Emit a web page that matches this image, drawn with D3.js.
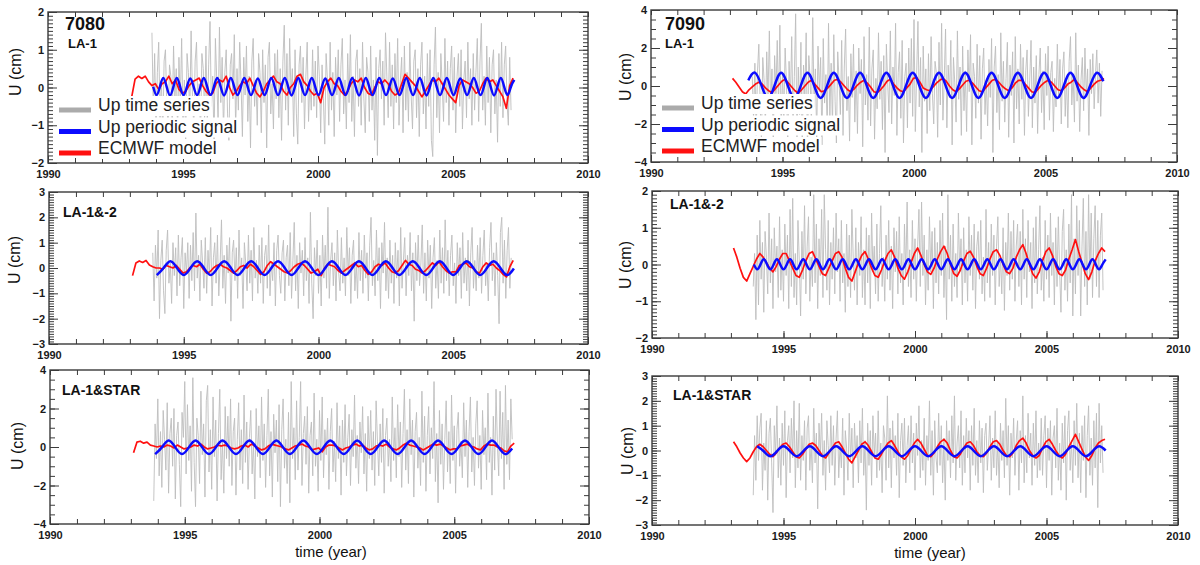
<!DOCTYPE html>
<html>
<head>
<meta charset="utf-8">
<script src="https://cdn.jsdelivr.net/npm/d3@7"></script>
<style>
  body { margin: 0; background: #fff; }
  svg { display: block; font-family: "Liberation Sans", Arial, sans-serif; }
</style>
</head>
<body>
<svg id="chart" width="1200" height="565"></svg>
<script>
// ---- data ----
const xTickYears = [1990, 1995, 2000, 2005, 2010];
const legendLabels = ['Up time series', 'Up periodic signal', 'ECMWF model'];

// gray "Up time series": one value every 0.05 yr from 1993.85
const grayStart = 1993.85, grayStep = 0.05;
// red ECMWF model: one value every 0.125 yr from 1993.1
const redStart = 1993.1, redStep = 0.125;

const gray7080LA1 = [
  1.45,-0.6,0.9,-1.1,0.4,1.2,-0.8,0.2,-1.3,0.7,1.0,-0.5,-1.0,0.6,0.3,-0.9,1.1,-0.3,0.5,-1.2,
  0.8,-0.4,1.3,-0.9,0.2,-1.4,0.9,0.4,-0.7,1.5,-0.2,-1.1,0.7,1.2,-0.6,0.1,-1.3,0.9,0.5,-0.8,
  1.1,-1.0,0.6,1.75,-0.5,0.3,-1.5,1.3,0.2,-0.9,1.6,-0.4,0.8,-1.2,0.4,1.0,-0.7,-1.4,0.6,0.9,
  -0.3,1.4,-1.1,0.5,-0.6,1.2,0.1,-1.3,0.8,-0.2,1.1,-0.9,0.3,-1.6,0.7,1.3,-0.5,0.2,-1.0,0.9,
  0.4,-1.2,1.0,-0.4,0.6,-1.6,0.8,1.2,-0.7,0.1,-1.1,0.9,-0.3,1.0,-0.8,0.5,-1.4,0.7,1.65,-0.6,
  0.9,-1.0,1.3,-0.2,0.5,-1.3,1.0,-0.7,-1.5,0.6,1.1,-0.4,0.8,-1.1,0.3,1.2,-0.9,0.2,-0.6,1.0,
  -0.5,0.7,-0.8,1.1,0.3,-1.2,0.6,-0.3,-1.5,0.9,0.2,-1.0,1.2,-0.6,0.4,-1.3,0.8,-0.2,1.0,-0.9,
  0.6,1.3,-0.7,0.2,-1.1,0.9,-0.4,1.4,-0.9,0.3,-1.3,0.7,1.0,-0.5,0.5,-1.0,1.2,-0.3,-1.2,0.8,
  0.4,-0.9,1.1,-0.6,0.2,-1.4,0.8,-1.8,0.5,1.0,-0.3,0.7,-1.0,1.45,0.3,-0.8,1.2,-0.5,0.6,-1.1,
  0.9,-0.4,1.3,-1.0,0.2,0.8,-1.2,1.1,-0.6,0.4,-0.9,1.2,-0.2,-1.1,0.7,1.0,-0.8,0.5,-1.3,0.6,
  1.2,-0.7,0.3,-1.1,0.9,-0.5,1.0,-1.4,-1.83,0.6,1.6,-0.8,0.4,-1.2,0.9,0.1,-0.9,1.3,-0.4,0.7,
  -1.0,0.5,1.1,-0.6,0.8,-1.2,0.3,0.9,-0.5,1.0,-1.1,0.2,0.7,-0.8,1.2,-0.3,0.5,-1.0,0.9,-0.6,
  0.4,1.3,-0.9,0.7,1.7,-0.6,0.3,-1.0,1.1,-0.4,0.8,-1.2,0.6,1.0,-0.7,0.2,-1.45,0.9,-0.5,1.2,
  -0.8,0.6,1.1,-0.4,-1.0,0.8,-0.6
];
const gray7090LA1 = [
  0.5,-1.8,1.2,-2.6,0.8,2.2,-1.0,-2.9,1.5,0.3,-2.2,1.8,-0.6,2.9,-1.4,0.9,-3.0,1.6,-0.4,2.4,
  -1.2,3.2,-2.5,0.7,-1.6,2.0,0.2,-3.3,1.3,-0.8,2.6,-1.9,0.5,3.8,-2.8,1.0,-1.5,2.3,-3.4,1.1,
  -0.5,2.8,-3.7,1.6,0.4,-2.0,3.6,-1.1,0.9,-2.7,2.1,-0.3,1.5,-3.1,2.5,-0.9,0.6,-2.4,3.3,-1.7,
  1.2,-2.2,2.7,-0.8,-3.0,1.8,0.3,-1.5,2.4,-2.6,1.0,3.0,-1.3,0.5,-2.9,1.7,-0.6,2.2,-1.9,0.8,
  -2.5,2.0,-0.4,1.4,-3.2,2.6,-1.0,0.6,-1.8,3.1,-2.1,0.9,1.9,-2.8,0.4,-1.2,2.8,-0.7,1.3,-2.3,
  1.6,-3.5,2.2,0.1,-1.4,2.9,-2.0,1.0,-0.5,3.3,-2.6,0.7,1.8,-1.7,2.4,-3.0,0.5,1.2,-2.2,2.0,
  -0.9,2.5,-1.6,3.5,-2.4,0.6,3.4,-1.1,1.5,-3.5,2.1,-0.8,0.9,-2.5,1.7,-1.3,2.6,-0.4,-2.0,1.3,
  0.7,-2.7,2.3,-1.0,3.3,-1.8,0.4,3.0,-2.2,1.1,-0.6,2.4,-3.1,1.5,0.2,-1.9,2.9,-0.7,1.0,-2.6,
  2.1,-1.3,0.8,-2.4,1.9,-0.3,2.7,-3.1,1.2,0.5,-1.7,2.2,-0.9,1.6,-2.8,0.9,2.0,-1.5,0.3,-2.1,
  1.4,-0.6,2.5,-3.5,1.0,2.1,-1.4,0.6,-2.3,2.8,-0.8,1.3,-1.9,0.4,2.3,-2.7,1.1,-0.5,1.8,-3.0,
  2.6,-1.2,0.9,-2.0,2.2,-0.7,1.5,-2.6,0.8,1.9,-1.6,0.3,2.4,-2.2,1.0,-0.9,1.6,-2.5,0.6,2.0,
  -1.4,0.8,-2.3,1.7,-0.5,2.1,-1.8,0.7,1.3,-2.4,0.4,-1.1,2.2,-0.6,1.4,-2.0,0.9,1.8,-1.6,0.5,
  -2.2,1.3,2.6,-1.0,0.6,-1.9,2.8,-0.8,1.1,-2.4,0.3,1.5,-1.3,2.0,-0.5,0.9,-2.6,1.4,-0.4,1.7,
  -1.2,0.6,1.9,-0.9,1.2,-1.6,0.8
];
const gray7080LA12 = [
  0.6,-1.3,0.9,-0.4,1.5,-2.0,0.3,1.1,-0.9,-1.8,0.7,1.5,-0.6,0.2,-1.4,1.0,-0.3,0.8,-1.1,1.3,
  -0.7,0.4,1.2,-1.6,0.6,-0.2,1.0,-1.2,0.9,-0.5,1.4,-0.9,2.17,-0.4,0.5,-1.3,1.1,0.2,-0.8,1.2,
  -1.0,0.7,-0.3,1.6,-1.5,0.4,1.0,-0.6,1.3,-1.1,0.2,1.9,-0.8,0.5,-1.4,0.9,-0.2,1.2,-2.1,0.6,
  1.1,-0.5,0.8,-1.2,1.5,-0.3,0.4,-1.6,1.0,0.2,-0.9,1.3,-0.6,0.7,-1.3,1.6,-0.4,0.3,-1.0,0.9,
  -0.6,1.2,-1.4,0.5,0.9,-0.8,1.7,-1.1,0.2,-0.5,1.0,-1.5,0.7,1.3,-0.3,-1.0,0.6,1.1,-1.3,0.4,
  0.9,-0.7,1.4,-1.2,0.3,1.8,-0.9,0.5,-1.6,1.0,-0.2,0.7,-1.1,1.2,-0.5,0.4,-1.4,2.2,-0.6,-2.0,
  0.8,-0.3,1.1,-1.0,0.5,-1.5,1.3,-0.4,0.9,-0.8,2.4,-1.2,0.3,1.0,-0.7,0.6,-1.3,1.5,-0.2,-0.9,
  1.2,-0.6,0.4,-1.1,1.6,-0.3,0.8,-1.4,0.5,1.1,-0.9,0.2,-1.2,1.4,-0.5,0.7,-1.0,1.3,-0.4,0.6,
  -1.3,0.9,2.0,-0.7,0.3,-1.1,1.5,-0.5,0.8,-1.6,1.0,-0.2,1.8,-0.9,0.4,-1.2,1.1,-0.6,0.5,-1.4,
  1.0,-0.4,0.7,-1.5,1.6,-0.8,0.3,1.2,-1.1,0.5,-0.3,1.4,-0.9,0.6,-2.1,1.0,-0.5,1.3,-0.7,0.2,
  1.7,-1.0,0.6,-1.3,1.1,-0.4,0.9,-1.6,0.4,1.2,-0.8,0.3,-1.2,1.5,-0.6,0.8,-1.0,1.9,-0.5,0.7,
  -1.1,0.5,1.3,-0.7,0.2,-1.4,1.0,-0.3,0.8,-1.2,1.4,-0.6,0.4,-0.9,1.1,-1.5,0.6,1.6,-0.8,0.3,
  -0.9,0.9,-0.4,1.2,-1.0,0.5,1.5,-0.7,0.2,-1.3,0.8,1.8,-0.5,0.6,-1.1,1.0,-0.3,-2.2,1.4,2.0,
  -0.6,1.1,-1.2,0.7,1.6,-0.8,0.4
];
const gray7090LA12 = [
  -0.6,0.3,-1.5,0.8,-1.1,1.2,-0.4,0.6,-1.3,0.9,0.2,-0.8,1.4,-0.5,0.7,-1.2,1.0,-0.2,0.5,-0.9,
  1.3,-0.7,0.4,-1.0,1.1,-0.3,0.8,-1.2,1.5,-0.6,1.8,-0.9,0.3,-1.1,1.2,0.1,-1.4,0.9,-0.4,1.6,
  -0.8,0.5,1.3,-1.0,0.2,-0.6,1.9,-0.5,1.1,-1.2,0.7,-0.3,1.5,-0.9,1.9,0.4,-0.7,1.2,-1.1,0.6,
  -0.4,1.0,-0.8,1.4,-0.2,0.7,-1.0,1.2,-0.5,0.3,-1.3,1.1,-0.6,0.8,-0.9,1.5,0.2,-0.7,1.0,-1.1,
  0.6,-0.3,1.3,-0.9,0.4,-1.1,1.0,-0.5,0.8,-1.2,1.4,-0.2,0.5,-0.8,1.1,-1.0,0.3,1.6,-0.6,0.2,
  -1.0,0.8,-0.4,1.2,-0.7,0.5,-1.2,1.0,-0.2,0.9,-0.8,1.3,-0.5,0.3,-1.1,1.1,-0.3,1.7,-0.6,0.4,
  -0.9,1.2,-0.4,0.7,-1.0,0.5,1.5,-0.6,1.7,-0.3,0.8,-1.1,0.4,-0.7,1.3,-0.2,0.9,-1.2,1.0,-0.5,
  0.6,-0.8,1.2,-0.3,1.4,-0.9,0.5,-1.5,1.9,-0.4,0.8,-1.0,1.1,-0.6,0.3,-0.9,1.4,-0.2,0.7,-1.1,
  1.0,-0.5,0.4,-1.0,1.3,-0.3,0.8,-0.7,1.1,-1.2,0.5,0.9,-0.4,1.2,-0.8,0.2,-1.0,1.5,-0.5,0.6,
  -0.9,1.1,-0.3,0.8,-1.1,0.5,1.3,-0.6,0.2,-0.8,1.0,-1.25,0.6,-0.3,1.4,-0.7,0.9,-0.4,1.2,-1.0,
  0.5,1.1,-0.6,0.9,-1.1,1.5,-0.4,0.7,-0.9,1.2,-0.2,0.6,-1.2,1.0,-0.5,1.3,-0.8,0.4,1.6,-0.7,
  0.2,-1.0,1.2,-0.4,0.8,-0.9,1.4,-0.3,0.6,-1.1,1.0,-0.6,1.3,-0.2,-1.3,0.9,1.5,-0.7,0.4,-1.0,
  1.1,-0.5,1.9,-1.4,0.7,-0.8,1.6,-0.3,1.2,-1.4,0.5,1.8,-0.6,0.9,-1.1,1.9,-0.4,1.4,-0.9,0.7,
  1.6,-0.6,1.2,-0.9,0.8,1.4,-0.7
];
const gray7080STAR = [
  -2.8,1.2,-0.6,2.5,-1.5,0.8,-2.1,1.9,0.4,-1.2,2.3,-2.4,0.7,1.5,-1.0,2.0,-2.7,0.6,1.3,-0.9,
  -3.1,1.8,0.5,3.4,-1.4,2.2,-0.7,1.1,-2.3,3.6,-0.8,-3.1,1.5,0.6,-1.9,2.9,-0.4,1.2,-2.6,2.4,
  3.2,-1.3,0.9,-2.2,2.6,-0.5,1.4,-2.8,0.7,3.0,-1.7,0.3,-2.4,2.1,-0.6,1.6,-1.0,2.5,-2.0,0.8,
  1.5,-2.5,0.4,2.3,-1.2,0.9,-1.9,2.7,-0.8,1.3,-2.2,0.5,1.9,-1.4,0.2,-2.7,2.0,-0.5,1.1,-1.6,
  2.6,-0.7,1.2,-2.1,0.6,3.0,-1.5,0.8,-2.6,1.7,-0.3,1.4,-1.8,2.2,-3.1,0.9,2.5,-1.1,0.4,-1.9,
  1.8,-2.9,3.4,-0.6,1.0,-1.7,2.4,-1.2,0.5,3.4,-2.0,0.7,1.6,-0.9,2.1,-2.4,0.6,1.3,-1.5,2.8,
  -1.0,0.4,-2.3,1.9,-0.7,2.6,-1.6,0.9,-0.4,1.5,-2.2,0.8,2.0,-1.3,0.3,-1.8,2.3,-0.6,1.1,-2.5,
  1.4,-0.8,2.2,-1.5,0.5,1.7,-2.0,0.9,-0.5,2.7,-1.1,0.6,-1.9,1.3,-0.3,2.1,-1.4,0.7,-2.3,1.6,
  -0.6,1.9,-1.2,0.8,-2.0,2.4,0.3,-1.5,1.2,-0.8,2.0,-2.4,0.6,1.5,-1.0,0.4,-1.8,2.6,-0.7,1.0,
  -1.6,2.2,-0.5,1.3,-2.1,0.7,3.0,-1.2,0.9,-1.9,2.5,-0.4,1.4,-2.6,0.8,1.8,-1.1,0.5,-2.0,2.9,
  -0.8,1.6,-2.3,0.6,2.1,-1.4,1.0,-0.6,3.4,-1.8,0.7,-2.9,1.9,-0.9,1.2,-2.2,0.4,2.4,-1.3,0.8,
  -1.9,2.7,-0.7,1.1,-2.4,0.9,1.8,-1.0,0.3,-1.6,2.3,-0.5,1.4,-2.1,0.8,2.6,-1.3,0.5,-2.0,1.2,
  2.4,-1.1,0.6,-2.2,1.9,-0.4,1.0,-1.7,2.8,-0.8,0.5,-2.5,1.6,-1.2,3.0,0.2,-1.5,2.9,-0.6,1.8,
  -2.2,3.2,-0.9,1.4,-1.7,2.5,0.4
];
const gray7090STAR = [
  -1.8,0.6,-1.2,1.4,-0.4,0.9,1.5,-1.6,0.3,-0.8,1.2,-2.0,0.7,1.3,-0.5,-2.5,1.0,-0.2,1.8,-1.1,
  0.5,-1.4,1.1,-0.6,1.6,-1.9,0.4,1.0,-0.9,1.3,-0.3,2.0,-1.5,0.8,-0.7,1.9,-1.2,0.6,-0.4,1.2,
  -1.6,0.9,1.4,-0.8,0.3,-1.3,1.7,-0.5,0.7,-2.35,1.1,-0.2,1.5,-1.0,0.4,-1.6,1.2,0.2,-0.9,1.4,
  -0.6,1.0,-1.4,0.5,1.6,-1.1,0.2,-0.7,1.3,-1.8,0.8,0.1,-1.2,1.5,-0.4,0.9,-1.5,1.1,-0.3,0.6,
  -1.3,1.2,-0.5,1.7,-1.0,0.4,-2.4,1.1,-0.6,0.8,-1.4,1.4,-0.2,0.7,-1.1,1.6,-0.8,0.3,-1.7,1.0,
  0.5,-1.2,2.2,-0.7,0.9,-1.5,1.2,-0.3,0.6,-1.0,1.5,-1.9,0.4,1.1,-0.6,1.3,-1.3,0.2,1.0,-0.9,
  1.4,-0.5,0.7,-1.6,1.1,-0.2,1.8,-1.1,0.4,-0.8,1.3,-1.4,0.6,-0.4,2.0,-1.0,0.8,-1.8,1.2,-0.3,
  -0.9,1.5,-0.6,1.0,-1.3,0.5,-2.0,1.2,-0.4,0.8,-1.1,1.4,-0.5,2.2,-1.2,0.3,1.0,-0.7,1.6,-1.4,
  0.6,-0.9,1.3,-0.3,0.8,-1.6,1.0,-0.6,1.7,-1.0,0.4,-1.3,1.2,-0.5,0.9,-1.7,0.6,1.1,-0.8,0.2,
  1.4,-1.2,0.5,-0.7,1.6,-1.0,0.3,-1.5,1.1,-0.4,0.8,-1.1,2.1,-0.6,1.0,-1.8,0.7,-0.3,1.3,-1.0,
  0.4,1.2,-1.6,0.8,-0.5,2.2,-1.3,0.6,-0.9,1.5,-0.3,0.7,-1.4,1.1,-0.6,1.6,-1.1,0.3,-0.8,1.3,
  -1.0,0.6,1.4,-1.5,0.9,-0.4,1.2,-1.8,0.5,1.0,-0.7,1.7,-1.2,0.3,-1.6,1.1,-0.5,1.4,-2.0,0.8,
  1.6,-0.8,0.4,-1.3,1.2,-0.6,1.9,-1.1,0.7,-1.7,1.0,-0.4,1.4,-1.9,0.6,1.8,-1.0,0.5,-1.4,1.2,
  -0.7,1.5,-2.3,1.9,-0.5,1.0,-0.9
];

const red7080LA1 = [
  -0.25,0.22,0.3,0.24,0.3,0.15,0.05,0.1,
  -0.05,0.1,0.15,0.3,0.1,0.2,-0.05,-0.15,
  -0.1,0.05,0.15,0.2,0.25,0.05,-0.1,-0.2,
  -0.15,0.1,0.2,0.15,0.3,0.0,-0.2,-0.1,
  0.05,0.15,0.1,0.25,0.05,-0.15,-0.25,-0.1,
  0.1,0.2,0.3,0.15,0.1,-0.1,-0.2,0.0,
  0.1,0.3,0.35,0.15,0.05,-0.1,-0.2,-0.15,
  -0.4,0.0,0.15,0.25,0.1,0.05,-0.1,-0.2,
  -0.1,0.1,0.2,0.15,0.25,0.0,-0.15,-0.2,
  0.0,0.15,0.1,0.2,0.1,-0.1,-0.2,-0.15,
  0.1,0.35,0.25,0.15,0.05,-0.1,-0.25,-0.1,
  0.05,0.2,0.15,0.25,0.1,-0.05,-0.2,-0.3,
  -0.4,0.05,0.2,0.15,0.1,0.0,-0.15,-0.1,
  0.1,0.25,0.15,0.2,0.05,-0.1,-0.25,-0.55,
  0.05,0.25
];
const red7090LA1 = [
  0.4,0.2,-0.05,-0.3,-0.42,-0.2,-0.05,0.1,
  0.2,0.1,-0.1,-0.25,-0.35,-0.15,0.05,0.25,
  0.35,0.15,-0.05,-0.25,-0.38,-0.2,0.0,0.2,
  0.3,0.1,-0.1,-0.3,-0.25,-0.1,0.1,0.3,
  0.35,0.2,0.0,-0.2,-0.3,-0.15,0.05,0.2,
  0.3,0.15,-0.05,-0.3,-0.35,-0.2,0.0,0.25,
  0.35,0.1,-0.1,-0.25,-0.3,-0.1,0.1,0.4,
  0.45,0.2,-0.1,-0.2,-0.25,-0.05,0.15,0.3,
  0.4,0.25,0.0,-0.2,-0.3,-0.15,0.05,0.25,
  0.3,0.15,-0.05,-0.25,-0.3,-0.1,0.1,0.3,
  0.35,0.2,0.0,-0.15,-0.25,-0.1,0.15,0.3,
  0.3,0.1,-0.1,-0.3,-0.35,-0.15,0.05,0.2,
  0.3,0.2,0.0,-0.2,-0.25,-0.1,0.1,0.2,
  0.35,0.15,-0.05,-0.2,-0.3,-0.1,0.1,0.25,
  0.3,0.4
];
const red7080LA12 = [
  -0.3,0.2,0.28,0.22,0.3,0.12,0.05,0.0,
  0.0,-0.05,0.1,0.05,0.0,0.1,-0.05,-0.2,
  -0.15,0.0,0.1,0.05,0.15,-0.05,-0.2,-0.15,
  0.0,0.1,0.15,0.05,0.0,-0.1,-0.2,-0.1,
  0.05,0.1,0.0,0.15,0.05,-0.1,-0.25,-0.15,
  0.1,0.25,0.15,0.05,-0.05,-0.15,-0.2,-0.1,
  0.05,0.15,0.2,0.1,-0.05,-0.2,-0.15,-0.05,
  -0.3,0.0,0.15,0.1,0.05,-0.1,-0.2,-0.1,
  0.0,0.1,0.2,0.05,0.1,-0.1,-0.25,-0.15,
  0.05,0.15,0.1,0.2,0.0,-0.15,-0.2,-0.1,
  0.1,0.3,0.15,0.1,-0.05,-0.1,-0.2,-0.1,
  0.05,0.2,0.1,0.25,0.05,-0.1,-0.2,-0.15,
  -0.15,0.1,0.15,0.2,0.05,0.0,-0.15,-0.2,
  0.05,0.2,0.1,0.15,0.0,-0.1,-0.25,-0.35,
  0.05,0.3
];
const red7090LA12 = [
  0.45,0.2,-0.1,-0.35,-0.45,-0.25,-0.05,0.15,
  0.3,0.2,0.05,-0.1,-0.2,-0.05,0.15,0.3,
  0.3,0.1,-0.1,-0.3,-0.35,-0.15,0.1,0.3,
  0.35,0.15,-0.05,-0.25,-0.3,-0.1,0.1,0.3,
  0.35,0.2,-0.1,-0.35,-0.45,-0.2,0.05,0.25,
  0.35,0.15,-0.1,-0.3,-0.35,-0.15,0.1,0.3,
  0.4,0.2,-0.1,-0.3,-0.4,-0.2,0.05,0.3,
  0.45,0.25,0.0,-0.2,-0.27,-0.1,0.15,0.35,
  0.5,0.3,0.0,-0.25,-0.32,-0.15,0.1,0.3,
  0.36,0.2,-0.05,-0.25,-0.3,-0.1,0.15,0.35,
  0.4,0.25,0.0,-0.2,-0.25,-0.1,0.2,0.4,
  0.54,0.3,0.0,-0.25,-0.37,-0.2,0.1,0.35,
  0.45,0.25,-0.05,-0.25,-0.3,-0.15,0.15,0.4,
  0.68,0.35,0.05,-0.25,-0.41,-0.2,0.1,0.3,
  0.45,0.35
];
const red7080STAR = [
  -0.3,0.25,0.3,0.2,0.25,0.1,0.05,0.0,
  0.05,0.0,0.1,0.05,-0.05,0.1,0.0,-0.1,
  -0.05,0.0,0.1,0.05,0.15,0.0,-0.1,-0.05,
  0.0,0.1,0.05,0.1,0.05,-0.05,-0.1,-0.05,
  0.05,0.1,0.0,0.15,0.05,-0.05,-0.15,-0.1,
  0.05,0.15,0.1,0.05,0.0,-0.1,-0.15,-0.05,
  0.05,0.1,0.15,0.05,0.0,-0.15,-0.1,-0.05,
  -0.25,0.0,0.1,0.1,0.05,-0.05,-0.15,-0.05,
  0.0,0.1,0.15,0.05,0.1,-0.05,-0.15,-0.1,
  0.05,0.1,0.05,0.15,0.0,-0.1,-0.15,-0.05,
  0.1,0.2,0.1,0.05,0.0,-0.05,-0.15,-0.05,
  0.05,0.15,0.1,0.15,0.05,-0.05,-0.15,-0.1,
  -0.1,0.05,0.1,0.15,0.05,0.0,-0.1,-0.15,
  0.05,0.15,0.1,0.1,0.0,-0.05,-0.2,-0.25,
  0.05,0.2
];
const red7090STAR = [
  0.35,0.15,-0.1,-0.3,-0.45,-0.3,-0.05,0.15,
  0.25,0.15,0.0,-0.15,-0.25,-0.1,0.1,0.25,
  0.3,0.15,-0.05,-0.25,-0.3,-0.15,0.05,0.25,
  0.3,0.2,0.0,-0.2,-0.3,-0.1,0.1,0.3,
  0.35,0.15,-0.1,-0.35,-0.5,-0.25,0.0,0.25,
  0.35,0.2,-0.05,-0.3,-0.35,-0.15,0.1,0.3,
  0.4,0.2,-0.05,-0.25,-0.35,-0.2,0.05,0.3,
  0.45,0.3,0.05,-0.2,-0.25,-0.1,0.15,0.35,
  0.45,0.3,0.0,-0.25,-0.3,-0.15,0.1,0.3,
  0.35,0.2,-0.05,-0.2,-0.25,-0.1,0.15,0.35,
  0.4,0.25,0.0,-0.2,-0.25,-0.1,0.2,0.4,
  0.5,0.3,0.0,-0.2,-0.3,-0.2,0.1,0.35,
  0.45,0.25,0.0,-0.2,-0.3,-0.15,0.15,0.4,
  0.65,0.35,0.05,-0.25,-0.4,-0.2,0.1,0.3,
  0.4,0.45
];

// blue periodic signal: values on a quarter-period grid
const blue7080LA1 = [
  0.02,-0.2,0.02,0.25, 0.02,-0.21,0.02,0.25, 0.02,-0.2,0.02,0.24, 0.02,-0.2,0.02,0.25,
  0.02,-0.2,0.02,0.25, 0.02,-0.21,0.02,0.25, 0.02,-0.2,0.02,0.25, 0.02,-0.2,0.02,0.24,
  0.02,-0.2,0.02,0.25, 0.02,-0.2,0.02,0.25, 0.02,-0.21,0.02,0.25, 0.02,-0.2,0.02,0.25,
  0.02,-0.2,0.02,0.24, 0.02,-0.2,0.02,0.25, 0.02,-0.2,0.02,0.25, 0.02,-0.21,0.02,0.25,
  0.02,-0.2,0.02,0.25, 0.02,-0.2,0.02,0.24, 0.02,-0.2,0.02,0.25, 0.02,-0.2,0.02,0.25,
  0.02,-0.21,0.02,0.25, 0.02,-0.2,0.02,0.25, 0.02,-0.2,0.02,0.24, 0.02,-0.2,0.02,0.25,
  0.02,-0.2,0.02,0.25, 0.02,-0.21,0.02,0.25, 0.02,-0.2,0.02,0.2
];
const blue7090LA1 = [
  0.3,
  0.7,0.03,-0.63,0.03, 0.7,0.03,-0.63,0.03, 0.7,0.03,-0.63,0.03, 0.7,0.03,-0.63,0.03,
  0.7,0.03,-0.63,0.03, 0.7,0.03,-0.63,0.03, 0.7,0.03,-0.63,0.03, 0.7,0.03,-0.63,0.03,
  0.7,0.03,-0.63,0.03, 0.7,0.03,-0.63,0.03, 0.7,0.03,-0.63,0.03, 0.7,0.03,-0.63,0.03,
  0.7,0.03,-0.63,0.03,
  0.7,0.25
];
const blue7080LA12 = [
  -0.28,0,0.27,0, -0.28,0,0.27,0, -0.28,0,0.27,0, -0.28,0,0.27,0, -0.28,0,0.27,0,
  -0.28,0,0.27,0, -0.28,0,0.27,0, -0.28,0,0.27,0, -0.28,0,0.27,0, -0.28,0,0.27,0,
  -0.28,0,0.27,0, -0.28,0,0.27,0, -0.28,0,0.27,0,
  -0.28,-0.02
];
const blue7090LA12 = [
  0,-0.13,0,0.14, 0,-0.13,0,0.14, 0,-0.13,0,0.14, 0,-0.13,0,0.14, 0,-0.13,0,0.14,
  0,-0.13,0,0.14, 0,-0.13,0,0.14, 0,-0.13,0,0.14, 0,-0.13,0,0.14, 0,-0.13,0,0.14,
  0,-0.13,0,0.14, 0,-0.13,0,0.14, 0,-0.13,0,0.14, 0,-0.13,0,0.14, 0,-0.13,0,0.14,
  0,-0.13,0,0.14, 0,-0.13,0,0.14, 0,-0.13,0,0.14, 0,-0.13,0,0.14, 0,-0.13,0,0.14,
  0,-0.13,0,0.14, 0,-0.13,0,0.14, 0,-0.13,0,0.14, 0,-0.13,0,0.14, 0,-0.13,0,0.14,
  0,-0.13,0,0.14, 0,-0.13,0,0.14
];
const blue7080STAR = [
  -0.37,-0.02,0.34,-0.02, -0.37,-0.02,0.34,-0.02, -0.37,-0.02,0.34,-0.02, -0.37,-0.02,0.34,-0.02,
  -0.37,-0.02,0.34,-0.02, -0.37,-0.02,0.34,-0.02, -0.37,-0.02,0.34,-0.02, -0.37,-0.02,0.34,-0.02,
  -0.37,-0.02,0.34,-0.02, -0.37,-0.02,0.34,-0.02, -0.37,-0.02,0.34,-0.02, -0.37,-0.02,0.34,-0.02,
  -0.37,-0.02,0.34,-0.02,
  -0.37,-0.08
];
const blue7090STAR = [
  0.17,-0.03,-0.23,-0.03, 0.17,-0.03,-0.23,-0.03, 0.17,-0.03,-0.23,-0.03, 0.17,-0.03,-0.23,-0.03,
  0.17,-0.03,-0.23,-0.03, 0.17,-0.03,-0.23,-0.03, 0.17,-0.03,-0.23,-0.03, 0.17,-0.03,-0.23,-0.03,
  0.17,-0.03,-0.23,-0.03, 0.17,-0.03,-0.23,-0.03, 0.17,-0.03,-0.23,-0.03, 0.17,-0.03,-0.23,-0.03,
  0.17,-0.03,-0.23,-0.03,
  0.17,0.0
];

// y axis ticks per panel
const yTicks7080LA1 = [-2, -1, 0, 1, 2];
const yTicks7090LA1 = [-4, -2, 0, 2, 4];
const yTicks7080LA12 = [-3, -2, -1, 0, 1, 2, 3];
const yTicks7090LA12 = [-2, -1, 0, 1, 2];
const yTicks7080STAR = [-4, -2, 0, 2, 4];
const yTicks7090STAR = [-3, -2, -1, 0, 1, 2, 3];

// ---- panels ----
const panels = [
  { id: 'a', station: '7080', name: 'LA-1', legend: true, gray: gray7080LA1, red: red7080LA1,
    blue: blue7080LA1, blueStart: 1993.895, blueStep: 0.125, yTicks: yTicks7080LA1, yMinor: 0.1,
    box: { x0: 48, x1: 588, y0: 12, y1: 163 }, stationPos: [65, 30], namePos: [68, 48], ylab: [15, 72], xTitle: false },
  { id: 'b', station: '7090', name: 'LA-1', legend: true, gray: gray7090LA1, red: red7090LA1,
    blue: blue7090LA1, blueStart: 1993.7, blueStep: 0.25, yTicks: yTicks7090LA1, yMinor: 0.5,
    box: { x0: 651, x1: 1177, y0: 10, y1: 162 }, stationPos: [665, 30], namePos: [665, 48], ylab: [625, 77], xTitle: false },
  { id: 'c', name: 'LA-1&-2', gray: gray7080LA12, red: red7080LA12,
    blue: blue7080LA12, blueStart: 1994.0, blueStep: 0.25, yTicks: yTicks7080LA12, yMinor: 0.1,
    box: { x0: 49, x1: 588, y0: 192, y1: 344 }, namePos: [63, 217], ylab: [14, 260], xTitle: false },
  { id: 'd', name: 'LA-1&-2', gray: gray7090LA12, red: red7090LA12,
    blue: blue7090LA12, blueStart: 1993.875, blueStep: 0.125, yTicks: yTicks7090LA12, yMinor: 0.1,
    box: { x0: 652, x1: 1178, y0: 191, y1: 338 }, namePos: [670, 209], ylab: [625, 265], xTitle: false },
  { id: 'e', name: 'LA-1&STAR', gray: gray7080STAR, red: red7080STAR,
    blue: blue7080STAR, blueStart: 1993.9, blueStep: 0.25, yTicks: yTicks7080STAR, yMinor: 0.5,
    box: { x0: 50, x1: 589, y0: 370, y1: 524 }, namePos: [62, 395], ylab: [17, 446], xTitle: [331, 557] },
  { id: 'f', name: 'LA-1&STAR', gray: gray7090STAR, red: red7090STAR,
    blue: blue7090STAR, blueStart: 1994.0, blueStep: 0.25, yTicks: yTicks7090STAR, yMinor: 0.1,
    box: { x0: 652, x1: 1178, y0: 376, y1: 525 }, namePos: [673, 400], ylab: [627, 451], xTitle: [930, 558] }
];

const svg = d3.select('#chart');
const FONT = '"Liberation Sans", Arial, sans-serif';
const fmt = d => (d < 0 ? '\u2212' + Math.abs(d) : String(d));
const series = (vals, start, step) => vals.map((v, i) => ({ t: start + i * step, v }));

function styleAxis(sel) {
  sel.select('.domain').remove();
  sel.selectAll('.tick line').attr('stroke', '#3c3c3c').attr('stroke-width', 1);
  sel.attr('font-family', FONT).attr('font-size', 11).attr('font-weight', 'bold');
  sel.selectAll('.tick text').attr('fill', '#1a1a1a');
}

panels.forEach(p => {
  const b = p.box;
  const yMax = d3.max(p.yTicks);
  const x = d3.scaleLinear().domain([1990, 2010]).range([b.x0, b.x1]);
  const y = d3.scaleLinear().domain([-yMax, yMax]).range([b.y1, b.y0]);
  const g = svg.append('g');

  svg.append('clipPath').attr('id', 'clip-' + p.id)
    .append('rect').attr('x', b.x0).attr('y', b.y0)
    .attr('width', b.x1 - b.x0).attr('height', b.y1 - b.y0);

  const plot = g.append('g').attr('clip-path', `url(#clip-${p.id})`);
  const line = d3.line().x(d => x(d.t)).y(d => y(d.v));

  plot.append('path').datum(series(p.gray, grayStart, grayStep))
    .attr('d', line).attr('fill', 'none')
    .attr('stroke', '#bdbdbd').attr('stroke-width', 0.9);

  plot.append('path').datum(series(p.red, redStart, redStep))
    .attr('d', line).attr('fill', 'none')
    .attr('stroke', '#ff1010').attr('stroke-width', 1.7).attr('stroke-linejoin', 'round');

  plot.append('path').datum(series(p.blue, p.blueStart, p.blueStep))
    .attr('d', line.curve(d3.curveNatural)).attr('fill', 'none')
    .attr('stroke', '#0c0cff').attr('stroke-width', 2.5);

  // axes: ticks point inward, on all four sides
  const minorY = d3.range(-yMax, yMax + 1e-6, p.yMinor);
  const minorX = d3.range(1990, 2011, 1);

  g.append('g').attr('transform', `translate(${b.x0},0)`)
    .call(d3.axisLeft(y).tickValues(minorY).tickSize(-5).tickFormat('')).call(styleAxis);
  g.append('g').attr('transform', `translate(${b.x0},0)`)
    .call(d3.axisLeft(y).tickValues(p.yTicks).tickSize(-9).tickPadding(4).tickFormat(fmt)).call(styleAxis);
  g.append('g').attr('transform', `translate(${b.x1},0)`)
    .call(d3.axisRight(y).tickValues(minorY).tickSize(-5).tickFormat('')).call(styleAxis);
  g.append('g').attr('transform', `translate(${b.x1},0)`)
    .call(d3.axisRight(y).tickValues(p.yTicks).tickSize(-9).tickFormat('')).call(styleAxis);
  g.append('g').attr('transform', `translate(0,${b.y0})`)
    .call(d3.axisTop(x).tickValues(minorX).tickSize(-5).tickFormat('')).call(styleAxis);
  g.append('g').attr('transform', `translate(0,${b.y1})`)
    .call(d3.axisBottom(x).tickValues(minorX).tickSize(-5).tickFormat('')).call(styleAxis);
  g.append('g').attr('transform', `translate(0,${b.y1})`)
    .call(d3.axisBottom(x).tickValues(xTickYears).tickSize(-7).tickPadding(7).tickFormat(d3.format('d'))).call(styleAxis);

  g.append('rect').attr('x', b.x0).attr('y', b.y0)
    .attr('width', b.x1 - b.x0).attr('height', b.y1 - b.y0)
    .attr('fill', 'none').attr('stroke', '#3a3a3a').attr('stroke-width', 1.4);

  // labels
  if (p.station) {
    g.append('text').attr('x', p.stationPos[0]).attr('y', p.stationPos[1])
      .attr('font-family', FONT).attr('font-size', 18).attr('font-weight', 'bold')
      .attr('fill', '#111').text(p.station);
  }
  g.append('text').attr('x', p.namePos[0]).attr('y', p.namePos[1])
    .attr('font-family', FONT).attr('font-size', p.station ? 13 : 14).attr('font-weight', 'bold')
    .attr('fill', '#111').text(p.name);

  g.append('text').attr('transform', `translate(${p.ylab[0]},${p.ylab[1]}) rotate(-90)`)
    .attr('text-anchor', 'middle').attr('dominant-baseline', 'central')
    .attr('font-family', FONT).attr('font-size', 16).attr('fill', '#111').text('U (cm)');

  if (p.xTitle) {
    g.append('text').attr('x', p.xTitle[0]).attr('y', p.xTitle[1])
      .attr('text-anchor', 'middle')
      .attr('font-family', FONT).attr('font-size', 15).attr('fill', '#111').text('time (year)');
  }

  if (p.legend) {
    const colors = ['#ababab', '#0c0cff', '#ff1010'];
    legendLabels.forEach((lab, i) => {
      const base = b.y0 + 99 + i * 21.5;
      const tx = b.x0 + 50;
      const t = g.append('text').attr('x', tx).attr('y', base)
        .attr('font-family', FONT).attr('font-size', 17.5).attr('fill', '#222').text(lab);
      const w = t.node().getComputedTextLength();
      g.insert('rect', () => t.node())
        .attr('x', tx - 2).attr('y', base - 15).attr('width', w + 4).attr('height', 20)
        .attr('fill', '#fff');
      g.append('line').attr('x1', b.x0 + 11).attr('x2', b.x0 + 43)
        .attr('y1', base - 1).attr('y2', base - 1)
        .attr('stroke', colors[i]).attr('stroke-width', 5);
    });
  }
});
</script>
</body>
</html>
